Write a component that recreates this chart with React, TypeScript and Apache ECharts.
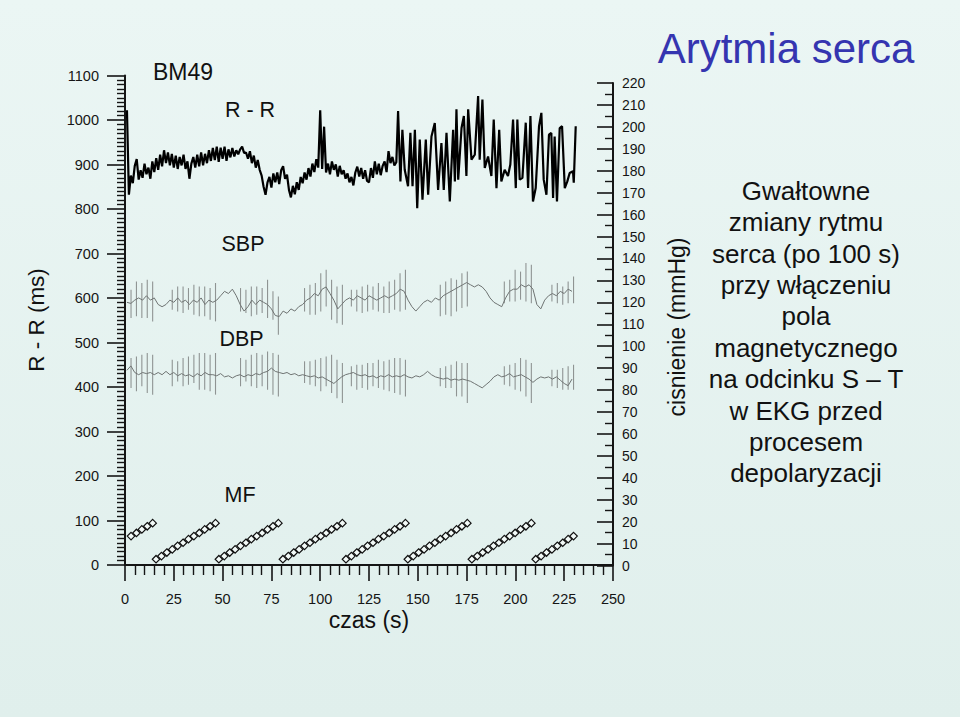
import React, { useEffect, useRef } from 'react';
import * as echarts from 'echarts';

const FONT = '"Liberation Sans", Arial, Helvetica, sans-serif';

// ---- R-R intervals (ms), steady part: one value per second, t = 1 .. 139 s
const rrSteadyStart = 1;
const rrSteady = [
  1022, 832, 875, 858, 897, 912, 866, 887, 870, 902,
  878, 893, 868, 907, 883, 914, 888, 922, 896, 932,
  903, 927, 898, 924, 893, 920, 890, 917, 898, 922,
  890, 907, 868, 902, 917, 893, 922, 896, 927, 898,
  924, 903, 932, 908, 937, 910, 940, 906, 938, 913,
  940, 908, 934, 916, 937, 918, 932, 923, 934, 940,
  926, 927, 913, 930, 903, 920, 893, 910, 888, 875,
  850, 832, 860, 872, 848, 880, 860, 882, 856, 887,
  896, 868, 877, 843, 826, 852, 833, 860, 843, 872,
  858, 882, 866, 892, 873, 902, 883, 912, 893, 1022,
  890, 985, 882, 902, 878, 907, 888, 900, 873, 897,
  878, 887, 868, 880, 860, 872, 853, 882, 895, 873,
  892, 868, 887, 863, 860, 892, 870, 907, 878, 902,
  876, 897, 907, 883, 930, 903, 917, 898, 905,
];
// ---- R-R intervals (ms), arrhythmic part (beat times in s)
const rrChaosTimes = [
  139.9, 141.1, 142.1, 143.3, 145.0, 146.2, 147.3, 148.5, 149.7, 151.0,
  152.4, 154.1, 155.3, 157.0, 158.7, 160.4, 162.1, 163.3, 164.7, 166.4,
  168.1, 169.0, 169.8, 170.7, 172.4, 173.6, 174.9, 175.8, 177.5, 179.2,
  180.9, 181.7, 183.1, 184.3, 186.0, 187.7, 188.9, 190.3, 191.7, 192.8,
  194.5, 196.2, 197.4, 198.8, 200.2, 201.0, 202.2, 203.6, 205.3, 206.5,
  207.7, 209.0, 210.4, 212.1, 213.3, 214.5, 215.9, 217.2, 218.4, 219.3,
  220.1, 221.3, 222.7, 223.9, 225.3, 226.6, 227.8, 229.5, 229.9, 230.9,
];
const rrChaosValues = [
  1020, 862, 978, 888, 851, 971, 851, 978, 802, 956,
  821, 956, 832, 963, 993, 843, 948, 843, 971, 817,
  978, 862, 1024, 866, 982, 1009, 874, 1024, 911, 922,
  1054, 911, 1046, 892, 918, 874, 1001, 847, 978, 862,
  888, 874, 900, 1001, 847, 1001, 866, 870, 994, 847,
  1009, 817, 847, 986, 1016, 866, 832, 967, 971, 825,
  963, 817, 982, 986, 847, 862, 881, 885, 859, 986,
];

// ---- SBP / DBP (mmHg), one value every 2 s from t = 1 s
const bpStart = 1;
const bpStep = 2;
const sbpValues = [
  120, 119.5, 121, 122, 121, 123, 121, 122, 119, 118,
  119, 121, 120, 122, 120, 121, 119, 121, 120, 122,
  119, 121, 120, 121, 123, 125, 124, 126, 123, 119,
  116, 118, 121, 119, 121, 120, 119, 117, 114, 113.5,
  116, 115, 117, 116, 118, 119, 121, 122, 124, 123,
  126, 127, 124, 121, 117, 119, 121, 122, 121, 123,
  122, 121, 123, 122, 121, 122, 123, 122, 123, 124,
  126, 125, 121, 118, 116, 118, 120, 121, 120, 122,
  121, 123, 124, 125, 126, 127, 128, 129, 128, 127,
  128, 127, 125, 122, 120, 119, 118, 122, 125, 126,
  126, 128, 127, 128, 126, 119, 117, 121, 123, 124,
  123, 125, 124, 126, 125,
];
const dbpValues = [
  89, 91, 88, 87, 88, 87.5, 88, 87, 88, 87,
  88.5, 87, 88, 86.5, 87.5, 86.5, 87, 86, 87.5, 86.5,
  88, 87, 87, 86.5, 87.5, 86, 86.5, 85.5, 86.5, 87,
  86, 87, 86.5, 87.5, 87, 88, 88.5, 90, 88.5, 88,
  87.5, 88, 87, 87.5, 86.5, 87, 86.5, 86, 86.5, 85.5,
  86, 85, 84, 83, 84.5, 86, 87, 87.5, 88, 87,
  86.5, 87, 86, 86.5, 85.5, 86.5, 86, 87, 86, 86.5,
  86, 87, 86, 85.5, 86.5, 86, 87, 88.5, 87, 86,
  85.5, 85, 85.5, 84.5, 85, 84.5, 85, 84.5, 84, 83,
  82, 81, 82.5, 84, 86, 87, 86, 86.5, 87.5, 86,
  86.5, 87, 86, 85, 83.5, 85, 86, 85.5, 86, 85,
  86, 84.5, 83, 82, 85,
];

// ---- MF: sawtooth of 12 levels, one sample every mfStep s
const mfLevels = [13, 20, 28, 35, 43, 50, 58, 65, 72, 80, 87, 94];
const mfStep = 2.77;
const mfGroupStart = [-16.3, 15.9, 48.1, 80.9, 113.2, 144.9, 177.7, 210.4];
const mfGroupFirst = [7, 0, 0, 0, 0, 0, 0, 0];
const mfGroupLast = [11, 11, 11, 11, 11, 11, 11, 7];

// ---- SBP / DBP spread bars, at MF samples barFirst..barLast of each group
const barFirst = [7, 3, 4, 4, 1, 6, 6, 3];
const barLast = [11, 11, 11, 11, 11, 11, 11, 7];
const sbpBarHi = [
  125.7, 129.5, 128.8, 130.3, 129.5,
  125.7, 127.2, 127.2, 126.5, 128, 127.2, 127.2, 126.5, 128.8,
  126.5, 125.7, 127.2, 127.2, 126.5, 130.3, 125, 122.7,
  126.5, 128, 128.8, 133.3, 134.8, 130.3, 127.2, 128,
  125.7, 125.7, 127.2, 128, 127.2, 128.8, 127.2, 129.5, 130.3, 133.3, 134.8,
  128, 129.5, 131, 130.3, 133.3, 134,
  129.5, 130.3, 134.8, 134, 137.9, 137.1,
  128, 128.8, 127.2, 129.5, 131.8,
];
const sbpBarLo = [
  112.8, 113.6, 112.8, 112.8, 111.3,
  116.6, 115.8, 115.1, 116.6, 114.3, 113.6, 113.6, 112, 111.3,
  115.8, 115.1, 113.6, 114.3, 115.1, 112.8, 112, 105.2,
  115.8, 114.3, 114.3, 115.8, 118.1, 112, 110.5, 109.8,
  118.1, 115.8, 115.1, 115.8, 116.6, 115.8, 115.1, 115.1, 116.6, 115.8, 116.6,
  113.6, 114.3, 113.6, 115.8, 117.4, 118.1,
  119.6, 120.4, 120.4, 121.2, 120.4, 119.6,
  120.4, 119.6, 118.9, 119.6, 119.6,
];
const dbpBarHi = [
  94.6, 95.3, 96.1, 96.9, 96.1,
  93.8, 93.1, 94.6, 95.3, 96.1, 96.9, 96.9, 96.1, 96.9,
  94.6, 93.8, 96.1, 96.9, 96.1, 97.6, 96.9, 96.1,
  93.1, 93.1, 93.8, 94.6, 95.3, 96.1, 93.8, 92.3,
  90.8, 91.5, 91.5, 92.3, 92.3, 93.8, 93.1, 93.8, 94.6, 94.6, 93.8,
  90, 90.8, 91.5, 93.1, 92.3, 92.3,
  90.8, 91.5, 92.3, 94.6, 93.8, 92.3,
  89.3, 89.3, 90, 90.8, 91.5,
];
const dbpBarLo = [
  80.9, 79.4, 81.7, 78.6, 77.9,
  81.7, 83.9, 81.7, 82.4, 83.2, 80.1, 80.1, 79.4, 77.9,
  81.7, 83.9, 81.7, 80.9, 81.7, 80.1, 77.9, 77.1,
  83.2, 82.4, 81.7, 79.4, 81.7, 78.6, 76.3, 74.1,
  81.7, 80.1, 80.9, 80.1, 81.7, 80.9, 80.1, 79.4, 78.6, 77.9, 77.1,
  81.7, 80.9, 80.9, 77.1, 77.1, 74.1,
  82.4, 81.7, 80.1, 79.4, 77.1, 74.1,
  81.7, 80.9, 80.1, 80.1, 80.1,
];

// ---- axes and texts
const timeTicks = { min: 0, max: 250, interval: 25 };
const rrTicks = { min: 0, max: 1100, interval: 100 };
const bpTicks = { min: 0, max: 220, interval: 10 };
const titleText = 'Arytmia serca';
const noteLines = [
  'Gwałtowne',
  'zmiany rytmu',
  'serca (po 100 s)',
  'przy włączeniu',
  'pola',
  'magnetycznego',
  'na odcinku S – T',
  'w EKG przed',
  'procesem',
  'depolaryzacji',
];

export default function App() {
  const ref = useRef<HTMLDivElement>(null);

  useEffect(() => {
    if (!ref.current) return;
    const chart = echarts.init(ref.current, undefined, { renderer: 'svg', width: 960, height: 717 });

    const rrData: number[][] = [];
    rrSteady.forEach((v, i) => rrData.push([rrSteadyStart + i, v]));
    rrChaosTimes.forEach((t, i) => rrData.push([t, rrChaosValues[i]]));

    const sbpData = sbpValues.map((v, i) => [bpStart + i * bpStep, v]);
    const dbpData = dbpValues.map((v, i) => [bpStart + i * bpStep, v]);

    const mfData: number[][] = [];
    mfGroupStart.forEach((s, g) => {
      for (let k = mfGroupFirst[g]; k <= mfGroupLast[g]; k++) {
        mfData.push([s + k * mfStep, mfLevels[k]]);
      }
    });

    const sbpBars: number[][] = [];
    const dbpBars: number[][] = [];
    let b = 0;
    mfGroupStart.forEach((s, g) => {
      for (let k = barFirst[g]; k <= barLast[g]; k++) {
        const t = s + k * mfStep;
        sbpBars.push([t, sbpBarLo[b], sbpBarHi[b]]);
        dbpBars.push([t, dbpBarLo[b], dbpBarHi[b]]);
        b++;
      }
    });

    const barRender = (params: any, api: any) => {
      const p1 = api.coord([api.value(0), api.value(1)]);
      const p2 = api.coord([api.value(0), api.value(2)]);
      return {
        type: 'line',
        shape: { x1: p1[0], y1: p1[1], x2: p2[0], y2: p2[1] },
        style: { stroke: '#8f9493', lineWidth: 1.1 },
      };
    };

    const axisColor = '#151515';
    const labelStyle = {
      color: '#151515',
      fontFamily: FONT,
      fontSize: 14.5,
      formatter: (v: number) => String(v),
    };

    const textStyle = (size: number, color = '#111') => ({
      font: `${size}px ${FONT}`,
      fill: color,
    });

    const option: any = {
      animation: false,
      backgroundColor: new echarts.graphic.LinearGradient(0, 0, 0, 1, [
        { offset: 0, color: '#ebf6f4' },
        { offset: 1, color: '#e0efec' },
      ]),
      grid: [
        { left: 125, width: 488, top: 75.5, height: 489.5, containLabel: false },
        { left: 125, width: 488, top: 83, height: 482.5, containLabel: false },
      ],
      xAxis: [
        {
          gridIndex: 0,
          type: 'value',
          ...timeTicks,
          axisLine: { show: true, onZero: false, lineStyle: { color: axisColor, width: 2 } },
          axisTick: { show: true, length: 16, lineStyle: { color: axisColor, width: 1.6 } },
          minorTick: { show: true, splitNumber: 5, length: 10, lineStyle: { color: axisColor, width: 1.4 } },
          axisLabel: { ...labelStyle, margin: 26 },
          splitLine: { show: false },
        },
        {
          gridIndex: 1,
          type: 'value',
          ...timeTicks,
          show: false,
        },
      ],
      yAxis: [
        {
          gridIndex: 0,
          type: 'value',
          position: 'left',
          ...rrTicks,
          axisLine: { show: true, onZero: false, lineStyle: { color: axisColor, width: 2 } },
          axisTick: { show: true, length: 18, lineStyle: { color: axisColor, width: 1.6 } },
          minorTick: { show: true, splitNumber: 10, length: 8, lineStyle: { color: axisColor, width: 1.4 } },
          axisLabel: { ...labelStyle, margin: 26 },
          splitLine: { show: false },
        },
        {
          gridIndex: 1,
          type: 'value',
          position: 'right',
          ...bpTicks,
          axisLine: { show: true, onZero: false, lineStyle: { color: axisColor, width: 2 } },
          axisTick: { show: true, inside: true, length: 16, lineStyle: { color: axisColor, width: 1.6 } },
          minorTick: { show: true, splitNumber: 2, length: 8, lineStyle: { color: axisColor, width: 1.4 } },
          axisLabel: { ...labelStyle, fontSize: 14, margin: 9 },
          splitLine: { show: false },
        },
      ],
      series: [
        {
          type: 'custom',
          name: 'SBP spread',
          xAxisIndex: 1,
          yAxisIndex: 1,
          renderItem: barRender,
          encode: { x: 0, y: [1, 2] },
          data: sbpBars,
          silent: true,
          z: 1,
        },
        {
          type: 'custom',
          name: 'DBP spread',
          xAxisIndex: 1,
          yAxisIndex: 1,
          renderItem: barRender,
          encode: { x: 0, y: [1, 2] },
          data: dbpBars,
          silent: true,
          z: 1,
        },
        {
          type: 'line',
          name: 'SBP',
          xAxisIndex: 1,
          yAxisIndex: 1,
          data: sbpData,
          showSymbol: false,
          symbol: 'none',
          lineStyle: { color: '#6f7473', width: 1 },
          z: 2,
        },
        {
          type: 'line',
          name: 'DBP',
          xAxisIndex: 1,
          yAxisIndex: 1,
          data: dbpData,
          showSymbol: false,
          symbol: 'none',
          lineStyle: { color: '#6f7473', width: 1 },
          z: 2,
        },
        {
          type: 'line',
          name: 'R - R',
          xAxisIndex: 0,
          yAxisIndex: 0,
          data: rrData,
          showSymbol: false,
          symbol: 'none',
          lineStyle: { color: '#000', width: 2.2 },
          z: 3,
        },
        {
          type: 'scatter',
          name: 'MF',
          xAxisIndex: 0,
          yAxisIndex: 0,
          data: mfData,
          symbol: 'diamond',
          symbolSize: 7.5,
          itemStyle: { color: '#f3faf8', borderColor: '#111', borderWidth: 1.2, opacity: 1 },
          z: 4,
        },
      ],
      graphic: [
        { type: 'text', x: 153, y: 72, style: { ...textStyle(23), text: 'BM49', align: 'left', verticalAlign: 'middle' } },
        { type: 'text', x: 250, y: 110, style: { ...textStyle(21.5), text: 'R - R', align: 'center', verticalAlign: 'middle' } },
        { type: 'text', x: 243, y: 244, style: { ...textStyle(21.5), text: 'SBP', align: 'center', verticalAlign: 'middle' } },
        { type: 'text', x: 241.5, y: 339, style: { ...textStyle(21.5), text: 'DBP', align: 'center', verticalAlign: 'middle' } },
        { type: 'text', x: 240, y: 495, style: { ...textStyle(21.5), text: 'MF', align: 'center', verticalAlign: 'middle' } },
        { type: 'text', x: 369, y: 620, style: { ...textStyle(23), text: 'czas (s)', align: 'center', verticalAlign: 'middle' } },
        {
          type: 'text', x: 36, y: 320, rotation: Math.PI / 2,
          style: { ...textStyle(22.5), text: 'R - R (ms)', align: 'center', verticalAlign: 'middle' },
        },
        {
          type: 'text', x: 677, y: 327, rotation: Math.PI / 2,
          style: { ...textStyle(23), text: 'cisnienie (mmHg)', align: 'center', verticalAlign: 'middle' },
        },
        {
          type: 'text', x: 786, y: 48,
          style: { ...textStyle(42, '#3535b0'), text: titleText, align: 'center', verticalAlign: 'middle' },
        },
        {
          type: 'text', x: 806, y: 175,
          style: {
            ...textStyle(26),
            text: noteLines.join('\n'),
            align: 'center',
            verticalAlign: 'top',
            lineHeight: 31.4,
          },
        },
      ],
    };

    chart.setOption(option);
    return () => chart.dispose();
  }, []);

  return (
    <div
      ref={ref}
      style={{ position: 'fixed', left: 0, top: 0, width: 960, height: 717 }}
    />
  );
}
